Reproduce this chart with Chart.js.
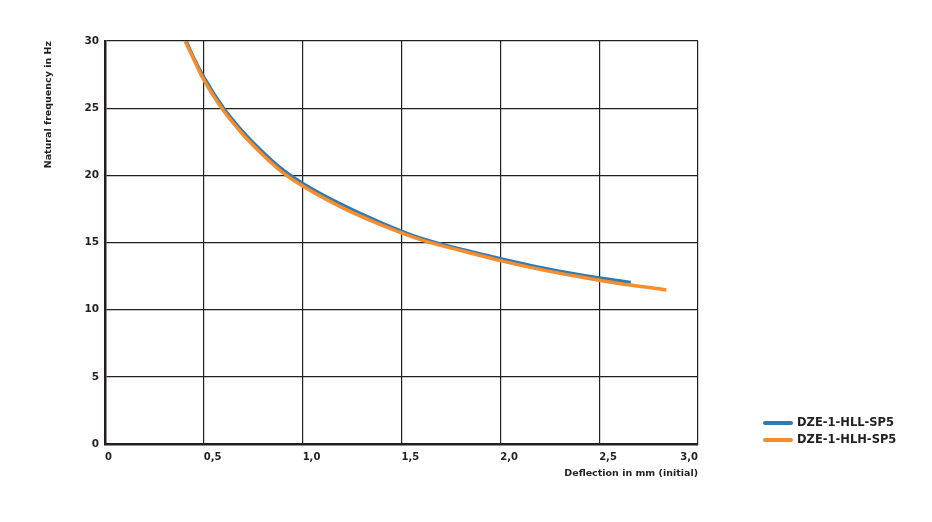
<!DOCTYPE html>
<html><head><meta charset="utf-8">
<script src="https://cdn.jsdelivr.net/npm/chart.js@4/dist/chart.umd.min.js"></script>
<style>html,body{margin:0;padding:0;background:#fff}#wrap{width:932px;height:522px;position:relative}</style>
</head><body><div id="wrap"><canvas id="c" width="932" height="522"></canvas></div>
<script>
const seriesNames = ['DZE-1-HLL-SP5', 'DZE-1-HLH-SP5'];
const seriesColors = ['#2a7bb7', '#f68d2e'];
const hllDeflection = [0.41, 0.45, 0.5, 0.6, 0.7, 0.8, 0.9, 1.0, 1.2, 1.4, 1.6, 1.8, 2.0, 2.2, 2.4, 2.6, 2.66];
const hllFrequency  = [30.0, 28.7, 27.3, 25.0, 23.2, 21.7, 20.4, 19.4, 17.8, 16.45, 15.3, 14.5, 13.8, 13.15, 12.6, 12.15, 12.02];
const hlhDeflection = [0.405, 0.45, 0.5, 0.6, 0.7, 0.8, 0.9, 1.0, 1.2, 1.4, 1.6, 1.8, 2.0, 2.2, 2.4, 2.6, 2.8, 2.84];
const hlhFrequency  = [30.0, 28.6, 27.1, 24.8, 23.0, 21.5, 20.2, 19.2, 17.6, 16.3, 15.2, 14.4, 13.65, 13.0, 12.45, 11.95, 11.55, 11.47];
const xTickValues = [0, 0.5, 1, 1.5, 2, 2.5, 3];
const xTickLabels = ['0', '0,5', '1,0', '1,5', '2,0', '2,5', '3,0'];
const yTickValues = [0, 5, 10, 15, 20, 25, 30];
const xTitle = 'Deflection in mm (initial)';
const yTitle = 'Natural frequency in Hz';

const FONT = 'DejaVu Sans';
const INK = '#231f20';

function toPoints(xs, ys) { return xs.map((x, i) => ({x: x, y: ys[i]})); }

const extras = {
  id: 'extras',
  afterDraw(chart) {
    const ctx = chart.ctx;
    const xs = chart.scales.x;
    ctx.save();
    // last x tick label, right-aligned to its tick
    ctx.font = 'bold 10px "' + FONT + '"';
    ctx.fillStyle = INK;
    ctx.textAlign = 'right';
    ctx.textBaseline = 'middle';
    const last = xTickValues[xTickValues.length - 1];
    ctx.fillText(xTickLabels[xTickLabels.length - 1], xs.getPixelForValue(last), 457);
    // legend
    const lx = 763, ly = 423, gap = 17;
    chart.data.datasets.forEach((ds, i) => {
      const y = ly + i * gap;
      ctx.strokeStyle = ds.borderColor;
      ctx.lineWidth = 4;
      ctx.lineCap = 'round';
      ctx.beginPath(); ctx.moveTo(lx + 2, y); ctx.lineTo(lx + 28, y); ctx.stroke();
      ctx.fillStyle = INK;
      ctx.textAlign = 'left';
      ctx.font = 'bold 11.5px "' + FONT + '"';
      ctx.fillText(ds.label, lx + 34, y + 0.5);
    });
    ctx.restore();
  }
};

new Chart(document.getElementById('c'), {
  type: 'scatter',
  data: {
    datasets: [
      { label: seriesNames[0], data: toPoints(hllDeflection, hllFrequency), showLine: true, borderColor: seriesColors[0], backgroundColor: seriesColors[0], borderWidth: 3.5, pointRadius: 0, cubicInterpolationMode: 'monotone', order: 2 },
      { label: seriesNames[1], data: toPoints(hlhDeflection, hlhFrequency), showLine: true, borderColor: seriesColors[1], backgroundColor: seriesColors[1], borderWidth: 3.5, pointRadius: 0, cubicInterpolationMode: 'monotone', order: 1 }
    ]
  },
  options: {
    responsive: false,
    animation: false,
    devicePixelRatio: 1,
    layout: { padding: { left: 0, right: 234, top: 41, bottom: 0 } },
    plugins: { legend: { display: false }, tooltip: { enabled: false } },
    scales: {
      x: {
        type: 'linear', min: 0, max: 3,
        afterBuildTicks(scale) { scale.ticks = xTickValues.map(v => ({value: v})); },
        afterFit(scale) { scale.height = 78; },
        grid: { color: INK, lineWidth: 1.2, drawTicks: false },
        border: { color: INK, width: 2.5 },
        ticks: {
          align: 'start', padding: 7, color: INK, maxRotation: 0, autoSkip: false,
          font: { family: FONT, weight: 'bold', size: 10 },
          callback(v) { const i = xTickValues.indexOf(v); return (i < 0 || i === xTickValues.length - 1) ? '' : xTickLabels[i]; }
        },
        title: { display: true, text: xTitle, align: 'end', color: INK, font: { family: FONT, weight: 'bold', size: 9.5 }, padding: { top: 0, bottom: 43 } }
      },
      y: {
        type: 'linear', min: 0, max: 30,
        afterBuildTicks(scale) { scale.ticks = yTickValues.map(v => ({value: v})); },
        afterFit(scale) { scale.width = 105; },
        grid: { color: INK, lineWidth: 1.2, drawTicks: false },
        border: { color: INK, width: 2.5 },
        ticks: { padding: 6, color: INK, font: { family: FONT, weight: 'bold', size: 10.5 } },
        title: { display: true, text: yTitle, align: 'end', color: INK, font: { family: FONT, weight: 'bold', size: 9.5 }, padding: { top: 43, bottom: 0 } }
      }
    }
  },
  plugins: [extras]
});
</script></body></html>
